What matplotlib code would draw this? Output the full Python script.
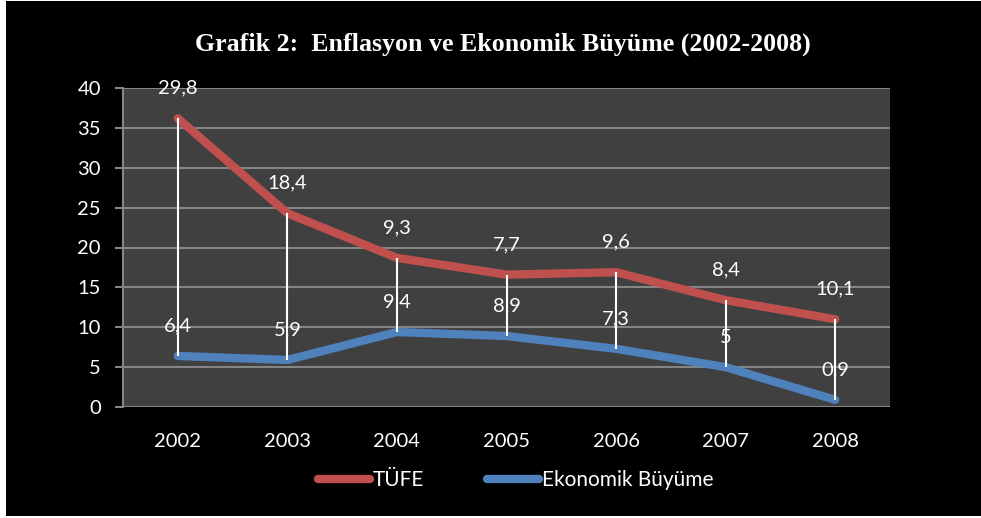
import numpy as np
import matplotlib.pyplot as plt
from matplotlib.patches import Rectangle

# veriler
years = ['2002', '2003', '2004', '2005', '2006', '2007', '2008']
tufe = [29.8, 18.4, 9.3, 7.7, 9.6, 8.4, 10.1]
buyume = [6.4, 5.9, 9.4, 8.9, 7.3, 5, 0.9]

font = 'Lato'
red = '#C0504D'
blue = '#4F81BD'

x = np.arange(len(years))
b = np.array(buyume)
t = b + np.array(tufe)  # yigilmis cizgi

fig = plt.figure(figsize=(9.81, 5.18), dpi=100, facecolor='white')
# siyah zemin, kenarda ince beyaz cerceve
fig.patches.append(Rectangle((6 / 981, 2 / 518), 1, 1 - 3 / 518, transform=fig.transFigure,
                             facecolor='black', edgecolor='none', zorder=-10))

ax = fig.add_axes([123 / 981, 1 - 407 / 518, 767 / 981, 319 / 518])
ax.set_facecolor('#404040')

ax.plot(x, t, color=red, lw=6, solid_capstyle='round', solid_joinstyle='round', zorder=3, label='TÜFE')
ax.plot(x, b, color=blue, lw=6, solid_capstyle='round', solid_joinstyle='round', zorder=3,
        label='Ekonomik Büyüme')
ax.vlines(x, b, t, color='white', lw=1.5, zorder=4)

for i in range(len(years)):
    ax.annotate(f'{tufe[i]:g}'.replace('.', ','), (x[i], t[i]), xytext=(0, 30), textcoords='offset pixels',
                ha='center', va='center', color='white', fontsize=14.5, family=font, zorder=5)
    ax.annotate(f'{buyume[i]:g}'.replace('.', ','), (x[i], b[i]), xytext=(0, 30), textcoords='offset pixels',
                ha='center', va='center', color='white', fontsize=14.5, family=font, zorder=5)

ax.set_xlim(-0.5, 6.5)
ax.set_ylim(0, 40)
ax.set_yticks(range(0, 41, 5))
ax.set_xticks(x)
ax.set_xticklabels(years)
ax.yaxis.grid(True, color='#858585', lw=1.5, zorder=1)
ax.set_axisbelow(True)
for s in ['top', 'right', 'bottom']:
    ax.spines[s].set_visible(False)
ax.spines['left'].set_color('#858585')
ax.spines['left'].set_linewidth(1.5)
ax.tick_params(axis='y', colors='#858585', length=6, width=1.5, pad=10, labelcolor='white', labelsize=14.5)
ax.tick_params(axis='x', length=0, pad=19, labelcolor='white', labelsize=14.5)
for lab in ax.get_xticklabels() + ax.get_yticklabels():
    lab.set_family(font)

fig.text(0.513, 1 - 44 / 518, 'Grafik 2:  Enflasyon ve Ekonomik Büyüme (2002-2008)', ha='center', va='center',
         color='white', fontsize=18.6, fontweight='bold', family='Liberation Serif')

leg = ax.legend(loc='center', bbox_to_anchor=(0.512, (407 - 480) / 319), ncol=2, frameon=False,
                prop={'family': font, 'size': 15}, handlelength=2.5, handletextpad=0.15, columnspacing=3.0)
for txt in leg.get_texts():
    txt.set_color('white')

fig.savefig('out.png', dpi=100, facecolor=fig.get_facecolor())
